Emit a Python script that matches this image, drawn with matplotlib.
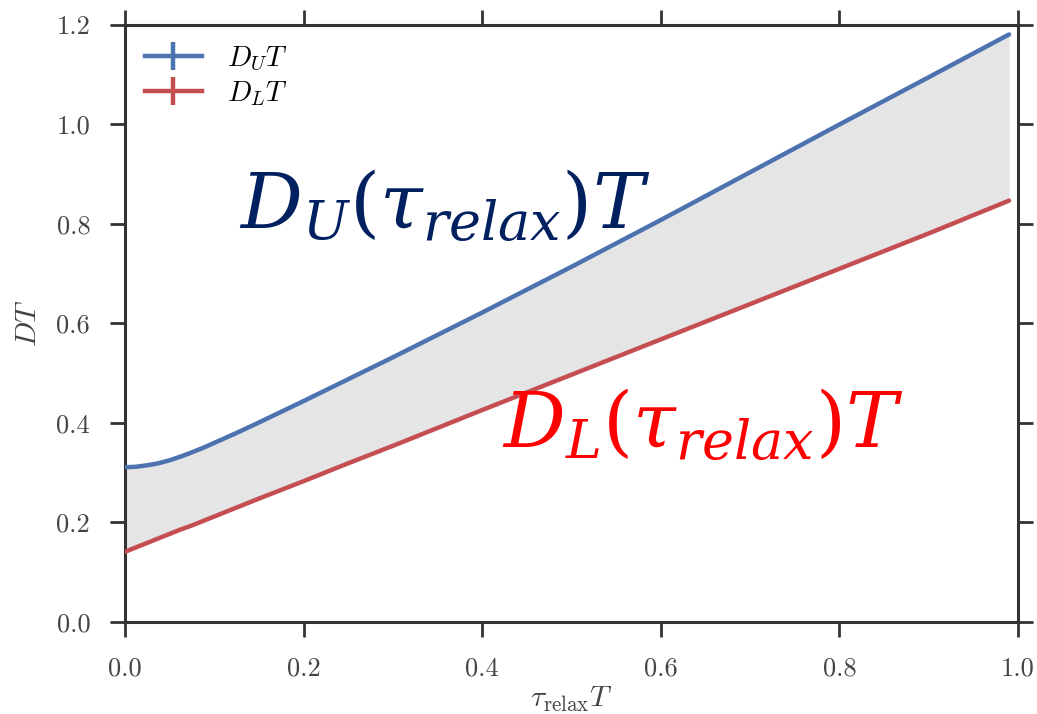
import matplotlib
matplotlib.use("Agg")
import matplotlib.pyplot as plt
from matplotlib.lines import Line2D

# data
tau = [0.0, 0.0125, 0.025, 0.0375, 0.05, 0.0625, 0.075, 0.0875, 0.1, 0.125, 0.15,
       0.2, 0.25, 0.3, 0.35, 0.4, 0.5, 0.6, 0.7, 0.8, 0.9, 0.99]
d_upper = [0.311, 0.312, 0.315, 0.319, 0.325, 0.3325, 0.341, 0.350, 0.360, 0.380, 0.401,
           0.444, 0.488, 0.532, 0.577, 0.622, 0.714, 0.808, 0.904, 1.000, 1.095, 1.181]
d_lower = [0.141, 0.150, 0.159, 0.168, 0.177, 0.186, 0.194, 0.203, 0.212, 0.230, 0.248,
           0.283, 0.319, 0.354, 0.390, 0.426, 0.497, 0.568, 0.639, 0.710, 0.781, 0.847]

x_ticks = [0.0, 0.2, 0.4, 0.6, 0.8, 1.0]
y_ticks = [0.0, 0.2, 0.4, 0.6, 0.8, 1.0, 1.2]

plt.rcParams['font.family'] = 'serif'
plt.rcParams['font.serif'] = ['cmr10', 'DejaVu Serif']
plt.rcParams['mathtext.fontset'] = 'cm'
plt.rcParams['axes.formatter.use_mathtext'] = True
plt.rcParams['axes.unicode_minus'] = False

fig = plt.figure(figsize=(10.37, 7.14), dpi=100)
ax = fig.add_axes([0.1205, 0.1289, 0.8612, 0.8361])

blue = '#4C72B0'
red = '#C44E52'

ax.fill_between(tau, d_lower, d_upper, color='#e5e5e5', linewidth=0, zorder=1)
ax.plot(tau, d_upper, color=blue, lw=3.2, solid_capstyle='round', zorder=3)
ax.plot(tau, d_lower, color=red, lw=3.2, solid_capstyle='round', zorder=3)

ax.set_xlim(0, 1.0)
ax.set_ylim(0, 1.2)
ax.set_xticks(x_ticks)
ax.set_yticks(y_ticks)
ax.set_xticklabels([f"{v:.1f}" for v in x_ticks])
ax.set_yticklabels([f"{v:.1f}" for v in y_ticks])
ax.tick_params(direction='out', length=11, width=2, colors='#333333',
               labelsize=19, top=True, right=True, pad=14)
ax.tick_params(labelcolor='#444444')
for s in ax.spines.values():
    s.set_linewidth(2.2)
    s.set_color('#333333')

ax.set_xlabel(r'$\tau_\mathrm{relax}T$', fontsize=21.5, color='#444444', labelpad=3)
ax.set_ylabel(r'$DT$', fontsize=21.5, color='#444444', labelpad=10)

handles = [Line2D([0], [0], color=blue, lw=3.2, marker='|', markersize=19.5, markeredgewidth=3.2),
           Line2D([0], [0], color=red, lw=3.2, marker='|', markersize=19.5, markeredgewidth=3.2)]
ax.legend(handles, [r'$D_UT$', r'$D_LT$'], loc='upper left', frameon=False,
          fontsize=20.5, handlelength=2.0, handletextpad=0.9, borderaxespad=0.3,
          labelspacing=0.2)

ax.text(0.128, 0.79, r'$D_U(\tau_{relax})T$', fontsize=55.5, color='#002060',
        math_fontfamily='dejavuserif', zorder=5)
ax.text(0.422, 0.35, r'$D_L(\tau_{relax})T$', fontsize=55.5, color='#FF0000',
        math_fontfamily='dejavuserif', zorder=5)

fig.savefig('out.png', dpi=100)
